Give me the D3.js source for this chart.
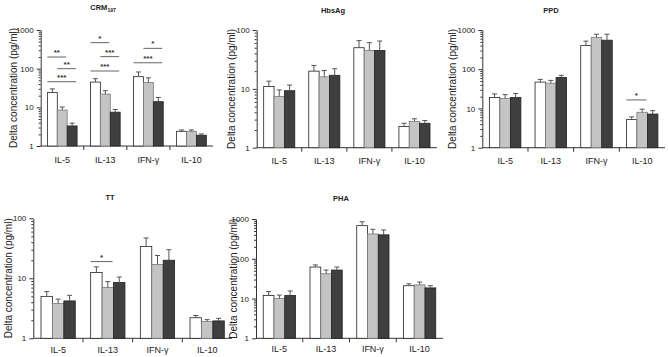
<!DOCTYPE html>
<html>
<head>
<meta charset="utf-8">
<script src="https://cdn.jsdelivr.net/npm/d3@7"></script>
<style>
  body { margin: 0; background: #fff; }
  svg { display: block; font-family: "Liberation Sans", Arial, sans-serif; }
  .domain { stroke: #333; }
  .tick line { stroke: #333; }
</style>
</head>
<body>
<div id="chart"></div>
<script>
// cytokine categories, bars are white / grey / dark groups
var categories = ['IL-5', 'IL-13', 'IFN-\u03b3', 'IL-10'];
var groupColors = ['#ffffff', '#c4c4c4', '#3f3f3f'];
var yLabel = 'Delta concentration (pg/ml)';

// means per group (white, grey, dark), one value per category
var crmMean = [[24, 45, 62, 2.4], [8.5, 22, 44, 2.4], [3.3, 7.5, 14, 1.9]];
var crmErr  = [[30, 55, 82, 2.6], [10.2, 27, 58, 2.6], [3.9, 8.8, 18, 2.05]];
var crmSig  = [['IL-5', 0, 1, '**', 200], ['IL-5', 1, 2, '**', 100], ['IL-5', 0, 2, '***', 46],
               ['IL-13', 0, 1, '*', 470], ['IL-13', 1, 2, '***', 205], ['IL-13', 0, 2, '***', 87],
               ['IFN-\u03b3', 1, 2, '*', 335], ['IFN-\u03b3', 0, 2, '***', 142]];

var hbsMean = [[11, 20, 50, 2.3], [7.4, 16, 45, 2.8], [9.3, 17, 45, 2.6]];
var hbsErr  = [[13.5, 25, 66, 2.6], [9.6, 20.5, 61, 3.1], [11.6, 22, 65, 2.9]];
var hbsSig  = [];

var ppdMean = [[19, 47, 400, 5.2], [18, 44, 650, 8], [19, 62, 550, 7.2]];
var ppdErr  = [[23.5, 55, 520, 6.1], [22.5, 52, 780, 9.6], [24, 70, 780, 8.8]];
var ppdSig  = [['IL-10', 0, 1, '*', 16.5]];

var ttMean = [[5, 12.5, 34, 2.2], [3.8, 7, 17, 1.9], [4.2, 8.5, 20, 1.95]];
var ttErr  = [[6, 15.5, 47, 2.4], [4.5, 8.8, 24, 2.05], [5.2, 10.5, 30, 2.15]];
var ttSig  = [['IL-13', 0, 1, '*', 19]];

var phaMean = [[12, 62, 680, 21], [10, 42, 420, 22], [12, 52, 400, 18.5]];
var phaErr  = [[15, 70, 850, 23.5], [12.2, 52, 550, 26], [15.5, 62, 530, 21]];
var phaSig  = [];

// panel frames (layout only)
var panels = [
  { title: 'CRM', sub: '197', mean: crmMean, err: crmErr, sig: crmSig, max: 1000,
    x0: 40.7, x1: 213, yTop: 30, yBottom: 146, labelX: 13, titleX: 103, titleY: 10, catY: 163 },
  { title: 'HbsAg', mean: hbsMean, err: hbsErr, sig: hbsSig, max: 100,
    x0: 256.7, x1: 437, yTop: 30, yBottom: 147.7, labelX: 231, titleX: 333, titleY: 13, catY: 164 },
  { title: 'PPD', mean: ppdMean, err: ppdErr, sig: ppdSig, max: 1000,
    x0: 482.3, x1: 665, yTop: 30, yBottom: 147.7, labelX: 452, titleX: 551, titleY: 12.5, catY: 164 },
  { title: 'TT', mean: ttMean, err: ttErr, sig: ttSig, max: 100,
    x0: 33.3, x1: 232, yTop: 218.3, yBottom: 338.3, labelX: 8, titleX: 110, titleY: 200, catY: 353 },
  { title: 'PHA', mean: phaMean, err: phaErr, sig: phaSig, max: 1000,
    x0: 256, x1: 443, yTop: 219, yBottom: 338.3, labelX: 233, titleX: 341, titleY: 201, catY: 352 }
];

var svg = d3.select('#chart').append('svg')
  .attr('width', 668)
  .attr('height', 357);

panels.forEach(function (p) {
  var g = svg.append('g');

  var x = d3.scaleBand().domain(categories).range([p.x0, p.x1]);
  var xGroup = d3.scaleBand().domain([0, 1, 2])
    .range([x.bandwidth() * 0.155, x.bandwidth() * 0.845]);
  var y = d3.scaleLog().domain([1, p.max]).range([p.yBottom, p.yTop]);

  // minor log ticks
  var minor = [];
  for (var dec = 1; dec < p.max; dec *= 10) {
    for (var k = 2; k <= 9; k++) minor.push(dec * k);
  }
  var majors = [];
  for (var m = 1; m <= p.max; m *= 10) majors.push(m);

  g.append('g')
    .attr('transform', 'translate(' + p.x0 + ',0)')
    .call(d3.axisLeft(y).tickValues(minor).tickSize(2).tickFormat(''))
    .call(function (a) { a.select('.domain').remove(); });

  var yAxis = g.append('g')
    .attr('transform', 'translate(' + p.x0 + ',0)')
    .call(d3.axisLeft(y).tickValues(majors).tickSize(4).tickSizeOuter(0)
      .tickFormat(d3.format('d')).tickPadding(3));
  yAxis.selectAll('text').attr('font-size', 8).attr('fill', '#222');

  // x axis with ticks between categories
  var xAxis = g.append('g').attr('transform', 'translate(0,' + p.yBottom + ')');
  xAxis.append('line')
    .attr('x1', p.x0).attr('x2', p.x1)
    .attr('stroke', '#333');
  xAxis.selectAll('.sep').data(categories.slice(1)).enter().append('line')
    .attr('x1', function (d) { return x(d); })
    .attr('x2', function (d) { return x(d); })
    .attr('y1', 0).attr('y2', 4)
    .attr('stroke', '#333');
  xAxis.selectAll('.cat').data(categories).enter().append('text')
    .attr('x', function (d) { return x(d) + x.bandwidth() / 2; })
    .attr('y', p.catY - p.yBottom)
    .attr('text-anchor', 'middle')
    .attr('font-size', 9)
    .attr('fill', '#222')
    .text(function (d) { return d; });

  // bars
  p.mean.forEach(function (series, gi) {
    var bw = xGroup.bandwidth();
    g.selectAll('.bar' + gi).data(series).enter().append('rect')
      .attr('x', function (d, i) { return x(categories[i]) + xGroup(gi); })
      .attr('y', function (d) { return y(d); })
      .attr('width', bw)
      .attr('height', function (d) { return p.yBottom - y(d); })
      .attr('fill', groupColors[gi])
      .attr('stroke', gi === 1 ? '#7a7a7a' : '#222')
      .attr('stroke-width', 0.8);

    // upper error bars
    var errs = p.err[gi];
    g.selectAll('.err' + gi).data(series).enter().append('path')
      .attr('d', function (d, i) {
        var cx = x(categories[i]) + xGroup(gi) + bw / 2;
        var top = y(errs[i]);
        return 'M' + cx + ',' + y(d) + 'V' + top + 'M' + (cx - 2.5) + ',' + top + 'H' + (cx + 2.5);
      })
      .attr('stroke', '#555')
      .attr('stroke-width', 1)
      .attr('fill', 'none');
  });

  // significance brackets
  p.sig.forEach(function (s) {
    var bw = xGroup.bandwidth();
    var left = x(s[0]) + xGroup(s[1]);
    var right = x(s[0]) + xGroup(s[2]) + bw - 1;
    var yy = y(s[4]);
    g.append('line')
      .attr('x1', left).attr('x2', right)
      .attr('y1', yy).attr('y2', yy)
      .attr('stroke', '#666').attr('stroke-width', 1);
    g.append('text')
      .attr('x', (left + right) / 2)
      .attr('y', yy - 2)
      .attr('text-anchor', 'middle')
      .attr('font-size', 8)
      .attr('font-weight', 'bold')
      .attr('fill', '#333')
      .text(s[3]);
  });

  // y label
  g.append('text')
    .attr('transform', 'translate(' + p.labelX + ',' + ((p.yTop + p.yBottom) / 2) + ') rotate(-90)')
    .attr('text-anchor', 'middle')
    .attr('dy', '0.35em')
    .attr('font-size', 10)
    .attr('fill', '#222')
    .text(yLabel);

  // title
  var t = g.append('text')
    .attr('x', p.titleX)
    .attr('y', p.titleY)
    .attr('text-anchor', 'middle')
    .attr('font-size', 7.5)
    .attr('font-weight', 'bold')
    .attr('fill', '#222')
    .text(p.title);
  if (p.sub) {
    t.append('tspan')
      .attr('font-size', 5)
      .attr('dy', 2)
      .text(p.sub);
  }
});
</script>
</body>
</html>
